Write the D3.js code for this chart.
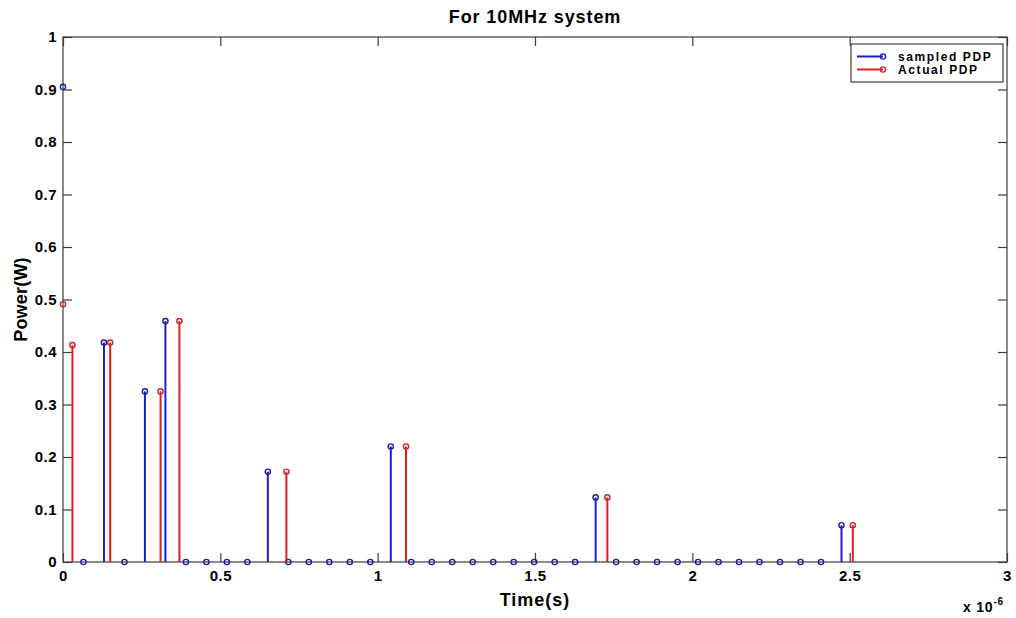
<!DOCTYPE html>
<html>
<head>
<meta charset="utf-8">
<script src="https://cdn.jsdelivr.net/npm/d3@7"></script>
<style>
  body { margin: 0; background: #fff; }
  text { font-family: "Liberation Sans", Arial, sans-serif; font-weight: bold; fill: #000; }
</style>
</head>
<body>
<script>
// times in units of 1e-6 s
const sampledTimes = [0, 0.0651, 0.1302, 0.1953, 0.2604, 0.3255, 0.3906, 0.4557, 0.5208, 0.5859,
  0.6510, 0.7161, 0.7812, 0.8464, 0.9115, 0.9766, 1.0417, 1.1068, 1.1719, 1.2370,
  1.3021, 1.3672, 1.4323, 1.4974, 1.5625, 1.6276, 1.6927, 1.7578, 1.8229, 1.8880,
  1.9531, 2.0182, 2.0833, 2.1484, 2.2135, 2.2786, 2.3438, 2.4089, 2.4740];
const sampledPower = [0.905, 0, 0.418, 0, 0.325, 0.459, 0, 0, 0, 0,
  0.172, 0, 0, 0, 0, 0, 0.220, 0, 0, 0,
  0, 0, 0, 0, 0, 0, 0.123, 0, 0, 0,
  0, 0, 0, 0, 0, 0, 0, 0, 0.070];

const actualTimes = [0, 0.03, 0.15, 0.31, 0.37, 0.71, 1.09, 1.73, 2.51];
const actualPower = [0.491, 0.413, 0.418, 0.325, 0.459, 0.172, 0.220, 0.123, 0.070];

const xTicks = [0, 0.5, 1, 1.5, 2, 2.5, 3];
const yTicks = [0, 0.1, 0.2, 0.3, 0.4, 0.5, 0.6, 0.7, 0.8, 0.9, 1];

const width = 1016;
const height = 618;
const margin = { top: 37, right: 9, bottom: 56, left: 63 };

const x = d3.scaleLinear()
  .domain([0, 3])
  .range([margin.left, width - margin.right]);

const y = d3.scaleLinear()
  .domain([0, 1])
  .range([height - margin.bottom, margin.top]);

const svg = d3.select('body').append('svg')
  .attr('width', width)
  .attr('height', height);

const axisColor = '#3c3c3c';

// stems are clipped to the inside of the axes box
svg.append('clipPath')
  .attr('id', 'plot-clip')
  .append('rect')
    .attr('x', margin.left + 1)
    .attr('y', margin.top)
    .attr('width', width - margin.right - margin.left - 1)
    .attr('height', height - margin.bottom - margin.top);

function stems(times, values, lineColor) {
  const data = times.map((t, i) => ({ t: t, v: values[i] }));
  const g = svg.append('g');
  g.append('g')
    .attr('clip-path', 'url(#plot-clip)')
    .selectAll('line')
    .data(data.filter(d => d.v > 0))
    .join('line')
      .attr('x1', d => x(d.t))
      .attr('x2', d => x(d.t))
      .attr('y1', y(0))
      .attr('y2', d => y(d.v))
      .attr('stroke', lineColor)
      .attr('stroke-width', 2);
  return g;
}

function markers(g, times, values, markColor) {
  const data = times.map((t, i) => ({ t: t, v: values[i] }));
  g.selectAll('circle')
    .data(data)
    .join('circle')
      .attr('cx', d => x(d.t))
      .attr('cy', d => y(d.v))
      .attr('r', 2.6)
      .attr('fill', 'none')
      .attr('stroke', markColor)
      .attr('stroke-width', 1.4);
}

const gSampled = stems(sampledTimes, sampledPower, '#1c1cd4');
const gActual = stems(actualTimes, actualPower, '#e01e1e');

// axes box and ticks
const axes = svg.append('g');
axes.append('rect')
  .attr('x', margin.left)
  .attr('y', margin.top)
  .attr('width', width - margin.right - margin.left)
  .attr('height', height - margin.bottom - margin.top)
  .attr('fill', 'none')
  .attr('stroke', axisColor)
  .attr('stroke-width', 1.2);

const tickLen = 9;

axes.append('g')
  .attr('transform', `translate(0, ${y(0)})`)
  .call(d3.axisBottom(x).tickValues(xTicks).tickSizeInner(-tickLen).tickSizeOuter(0).tickPadding(8).tickFormat(d => d))
  .call(g => g.select('.domain').remove());

axes.append('g')
  .attr('transform', `translate(0, ${y(1)})`)
  .call(d3.axisTop(x).tickValues(xTicks).tickSizeInner(-tickLen).tickSizeOuter(0).tickFormat(''))
  .call(g => g.select('.domain').remove());

axes.append('g')
  .attr('transform', `translate(${margin.left}, 0)`)
  .call(d3.axisLeft(y).tickValues(yTicks).tickSizeInner(-tickLen).tickSizeOuter(0).tickPadding(6).tickFormat(d => d))
  .call(g => g.select('.domain').remove());

axes.append('g')
  .attr('transform', `translate(${width - margin.right}, 0)`)
  .call(d3.axisRight(y).tickValues(yTicks).tickSizeInner(-tickLen).tickSizeOuter(0).tickFormat(''))
  .call(g => g.select('.domain').remove());

axes.selectAll('.tick line').attr('stroke', axisColor).attr('stroke-width', 1.2);
axes.selectAll('.tick text')
  .attr('font-size', '15px')
  .attr('font-family', '"Liberation Sans", Arial, sans-serif')
  .attr('font-weight', 'bold')
  .attr('letter-spacing', '0.5px')
  .attr('fill', '#000');

// markers on top of the axes
markers(gSampled.raise(), sampledTimes, sampledPower, '#1e1ea0');
markers(gActual.raise(), actualTimes, actualPower, '#c8262c');

// title and labels
svg.append('text')
  .attr('x', (margin.left + width - margin.right) / 2)
  .attr('y', 23)
  .attr('text-anchor', 'middle')
  .attr('font-size', '18px')
  .attr('letter-spacing', '0.9px')
  .text('For 10MHz system');

svg.append('text')
  .attr('x', (margin.left + width - margin.right) / 2)
  .attr('y', 606)
  .attr('text-anchor', 'middle')
  .attr('font-size', '18px')
  .attr('letter-spacing', '1px')
  .text('Time(s)');

svg.append('text')
  .attr('transform', `translate(27, ${(margin.top + height - margin.bottom) / 2}) rotate(-90)`)
  .attr('text-anchor', 'middle')
  .attr('font-size', '18px')
  .attr('letter-spacing', '0.2px')
  .text('Power(W)');

const expo = svg.append('text')
  .attr('x', 963)
  .attr('y', 612)
  .attr('font-size', '14px')
  .attr('letter-spacing', '0.8px');
expo.append('tspan').text('x 10');
expo.append('tspan')
  .attr('font-size', '10px')
  .attr('dy', -7)
  .text('-6');

// legend
const legend = svg.append('g');
legend.append('rect')
  .attr('x', 851)
  .attr('y', 44)
  .attr('width', 152)
  .attr('height', 38)
  .attr('fill', '#fff')
  .attr('stroke', axisColor)
  .attr('stroke-width', 1.2);

const legendItems = [
  { label: 'sampled PDP', line: '#1c1cd4', mark: '#1e1ea0', y: 56.5 },
  { label: 'Actual PDP', line: '#e01e1e', mark: '#c8262c', y: 69.5 }
];

legendItems.forEach(item => {
  legend.append('line')
    .attr('x1', 857).attr('x2', 883)
    .attr('y1', item.y).attr('y2', item.y)
    .attr('stroke', item.line)
    .attr('stroke-width', 2);
  legend.append('circle')
    .attr('cx', 883).attr('cy', item.y)
    .attr('r', 2.6)
    .attr('fill', 'none')
    .attr('stroke', item.mark)
    .attr('stroke-width', 1.4);
  legend.append('text')
    .attr('x', 898)
    .attr('y', item.y + 4.5)
    .attr('font-size', '12px')
    .attr('letter-spacing', '1.6px')
    .text(item.label);
});
</script>
</body>
</html>
